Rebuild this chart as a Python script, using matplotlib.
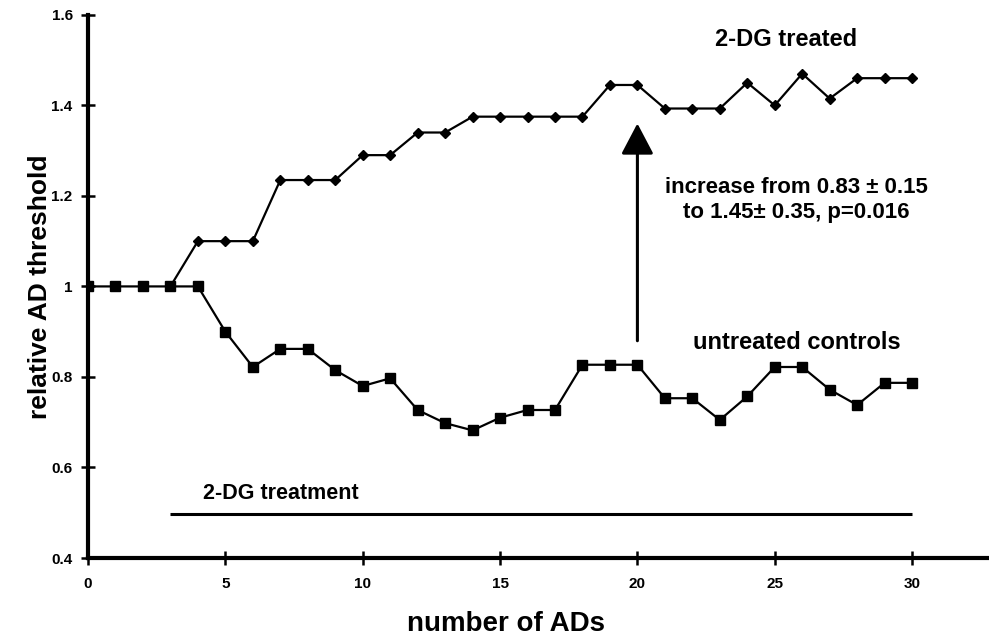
import matplotlib.pyplot as plt

# relative AD threshold per AD number
ad_number = list(range(31))
treated = [1.0, 1.0, 1.0, 1.0, 1.1, 1.1, 1.1, 1.235, 1.235, 1.235,
           1.29, 1.29, 1.34, 1.34, 1.375, 1.375, 1.375, 1.375, 1.375, 1.445,
           1.445, 1.393, 1.393, 1.393, 1.45, 1.40, 1.47, 1.415, 1.46, 1.46,
           1.46]
controls = [1.0, 1.0, 1.0, 1.0, 1.0, 0.90, 0.822, 0.862, 0.862, 0.815,
            0.78, 0.797, 0.727, 0.698, 0.682, 0.71, 0.727, 0.727, 0.827, 0.827,
            0.827, 0.753, 0.753, 0.705, 0.757, 0.822, 0.822, 0.772, 0.738, 0.787,
            0.787]
treatment_span = [3, 30]
treatment_level = 0.498

y_ticks = [0.4, 0.6, 0.8, 1.0, 1.2, 1.4, 1.6]
y_tick_labels = ["0.4", "0.6", "0.8", "1", "1.2", "1.4", "1.6"]
x_ticks = [0, 5, 10, 15, 20, 25, 30]

plt.rcParams["font.family"] = ["Liberation Sans", "DejaVu Sans"]
plt.rcParams["font.weight"] = "bold"
plt.rcParams["axes.labelweight"] = "bold"

fig = plt.figure(figsize=(9.89, 6.44), dpi=100)
ax = fig.add_axes([0.089, 0.1335, 0.911, 0.8435])

# treated animals start from the control curve at AD 3
ax.plot(ad_number[3:], treated[3:], color="black", lw=1.6, marker="D",
        markersize=5, zorder=3)
ax.plot(ad_number, controls, color="black", lw=1.6, marker="s",
        markersize=6.5, zorder=3)

# bar marking the 2-DG treatment period
ax.plot(treatment_span, [treatment_level, treatment_level], color="black",
        lw=2.2, solid_capstyle="butt")
ax.text(4.2, 0.52, "2-DG treatment", fontsize=15.5, ha="left", va="bottom")

ax.annotate("", xy=(20, 1.36), xytext=(20, 0.88),
            arrowprops=dict(arrowstyle="-|>,head_length=1.9,head_width=1.0",
                            color="black", lw=2.2, shrinkA=0, shrinkB=0))
ax.text(25.8, 1.19, "increase from 0.83 \u00b1 0.15\nto 1.45\u00b1 0.35, p=0.016",
        fontsize=16, ha="center", va="center", linespacing=1.25)
ax.text(25.4, 1.545, "2-DG treated", fontsize=17, ha="center", va="center")
ax.text(25.8, 0.876, "untreated controls", fontsize=17, ha="center",
        va="center")

ax.set_xlim(0, 32.8)
ax.set_ylim(0.4, 1.6)
ax.set_xticks(x_ticks)
ax.set_yticks(y_ticks)
ax.set_yticklabels(y_tick_labels)
ax.tick_params(axis="both", direction="inout", length=10, width=1.8,
               labelsize=11, pad=6)
ax.tick_params(axis="x", pad=9)

for side in ("top", "right"):
    ax.spines[side].set_visible(False)
for side in ("left", "bottom"):
    ax.spines[side].set_linewidth(3)

ax.set_xlabel("number of ADs", fontsize=20)
ax.set_ylabel("relative AD threshold", fontsize=19)
ax.xaxis.set_label_coords(15.2 / 32.8, -0.098)
ax.yaxis.set_label_coords(-0.04, 0.5)

fig.savefig("out.png", dpi=100)
